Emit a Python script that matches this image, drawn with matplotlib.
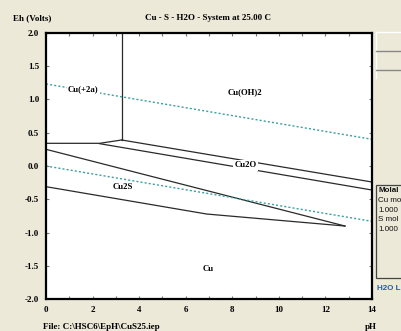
import matplotlib.pyplot as plt
from matplotlib.patches import Rectangle
from matplotlib.lines import Line2D

# stability field boundaries (pH, Eh)
vert_pH = [3.25, 3.25]
vert_Eh = [0.39, 2.0]
horiz_pH = [0, 2.3, 3.25]
horiz_Eh = [0.34, 0.34, 0.39]
cu2o_up_pH = [3.25, 14]
cu2o_up_Eh = [0.39, -0.24]
cu2o_lo_pH = [2.3, 14]
cu2o_lo_Eh = [0.335, -0.36]
cu2s_up_pH = [0, 12.84]
cu2s_up_Eh = [0.25, -0.90]
cu2s_lo_pH = [0, 6.9, 12.84]
cu2s_lo_Eh = [-0.31, -0.72, -0.90]

# water stability limits
h2o_pH = [0, 14]
o2_Eh = [1.23, 0.40]
h2_Eh = [0.0, -0.83]

# species labels
labels = ['Cu(+2a)', 'Cu(OH)2', 'Cu2O', 'Cu2S', 'Cu']
label_pH = [1.6, 8.55, 8.57, 3.3, 6.96]
label_Eh = [1.15, 1.10, 0.01, -0.32, -1.545]

x_ticks = [0, 2, 4, 6, 8, 10, 12, 14]
y_ticks = [-2.0, -1.5, -1.0, -0.5, 0.0, 0.5, 1.0, 1.5, 2.0]

# side panel text (cut by the window edge in the original)
legend_rows = ['Molal', 'Cu mo', '1.000', 'S mol', '1.000']

W, H = 402, 331
bg = '#ECE9D8'
serif = 'Liberation Serif'

def fx(x):
    return x / W

def fy(y):
    return 1 - y / H

fig = plt.figure(figsize=(W / 100, H / 100), dpi=100, facecolor=bg)
ax = fig.add_axes([fx(46), fy(299.4), (372 - 46) / W, (299.4 - 32.6) / H])
ax.set_facecolor('white')

lc = '#2a2a2a'
for xs, ys in [(vert_pH, vert_Eh), (horiz_pH, horiz_Eh), (cu2o_up_pH, cu2o_up_Eh),
               (cu2o_lo_pH, cu2o_lo_Eh), (cu2s_up_pH, cu2s_up_Eh), (cu2s_lo_pH, cu2s_lo_Eh)]:
    ax.plot(xs, ys, color=lc, lw=0.9, zorder=2)

for ys in [o2_Eh, h2_Eh]:
    ax.plot(h2o_pH, ys, color='#3f9f9f', lw=1.0, ls=(0, (1.5, 1.5)), zorder=2)

for t, x, y in zip(labels, label_pH, label_Eh):
    ax.text(x, y, t, ha='center', va='center', fontsize=6.3, family=serif,
            fontweight='bold', zorder=3,
            bbox=dict(facecolor='white', edgecolor='none', pad=1.0))

ax.set_xlim(0, 14)
ax.set_ylim(-2, 2)
ax.set_xticks(x_ticks)
ax.set_xticklabels([str(v) for v in x_ticks])
ax.set_xticks(range(0, 15), minor=True)
ax.set_yticks(y_ticks)
ax.set_yticklabels(['%.1f' % v for v in y_ticks])
ax.tick_params(which='both', direction='in', length=2.5, width=0.8, color='#777777',
               top=True, right=True, labelsize=6.5)
ax.tick_params(axis='x', pad=5)
ax.tick_params(axis='y', pad=5)
for lab in ax.get_xticklabels() + ax.get_yticklabels():
    lab.set_family(serif)
    lab.set_fontweight('bold')
for s in ax.spines.values():
    s.set_linewidth(1.6)
    s.set_color('black')

tk = dict(family=serif, fontweight='bold', fontsize=6.5, va='center')
fig.text(fx(13), fy(18), 'Eh (Volts)', ha='left', **tk)
fig.text(fx(208), fy(18), 'Cu - S - H2O - System at 25.00 C', ha='center', **tk)
fig.text(fx(43), fy(327), 'File: C:\\HSC6\\EpH\\CuS25.iep', ha='left', **tk)
fig.text(fx(371), fy(327), 'pH', ha='center', **tk)

# right side panel
fig.add_artist(Line2D([fx(376), fx(376)], [fy(32), fy(78)], color='#ffffff', lw=1))
fig.add_artist(Line2D([fx(376), fx(402)], [fy(32), fy(32)], color='#ffffff', lw=1))
for yy in [51, 70]:
    fig.add_artist(Line2D([fx(376), fx(402)], [fy(yy), fy(yy)], color='#888888', lw=1))
fig.add_artist(Rectangle((fx(376), fy(278)), 40 / W, (278 - 185) / H,
                         transform=fig.transFigure, facecolor=bg, edgecolor='#444444', lw=0.9))
sans = 'Liberation Sans'
for i, r in enumerate(legend_rows):
    fig.text(fx(378.5), fy(191 + i * 9.6), r, ha='left', va='center', family=sans,
             fontsize=5.8, fontweight='bold' if i == 0 else 'normal', color='#111111')
fig.text(fx(377.5), fy(288), 'H2O L', ha='left', va='center', family=sans,
         fontsize=5.8, fontweight='bold', color='#1f5fa8')

fig.savefig('out.png', dpi=100, facecolor=bg)
